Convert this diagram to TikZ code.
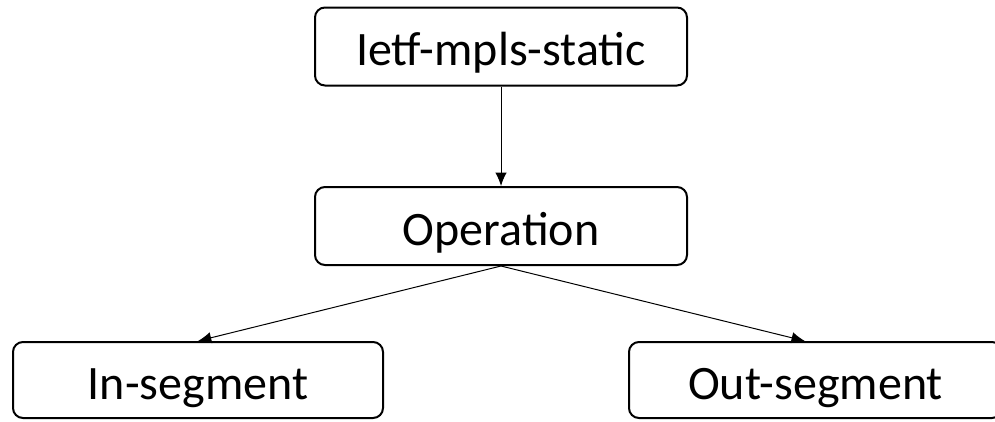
\documentclass[tikz,border=0pt]{standalone}
\usepackage{fontspec}
\setmainfont{Carlito}
\usetikzlibrary{arrows.meta}

\tikzset{
    modbox/.style={draw, line width=1.5pt, rounded corners=7.5pt,
        minimum width=372*0.75pt, minimum height=78*0.75pt,
        text height=34pt, text depth=5.5pt, inner sep=0pt,
        font=\fontsize{36}{40}\selectfont},
    link/.style={-{Latex[length=10pt,width=8.5pt]}, line width=0.75pt}
}

\begin{document}
\begin{tikzpicture}[x=0.75pt, y=-0.75pt]
    \useasboundingbox (0,0) rectangle (995,421);

    % Draw the boxes
    \node[modbox] (static) at (501,46.5) {Ietf-mpls-static};
    \node[modbox] (oper) at (501,226) {Operation};
    \node[modbox, minimum width=370*0.75pt, minimum height=76*0.75pt] (inseg) at (198,380) {In-segment};
    \node[modbox, minimum width=373*0.75pt, minimum height=76*0.75pt] (outseg) at (815.5,380) {Out-segment};
    \coordinate (outtip) at ([xshift=-8pt]outseg.north);

    % Connect them
    \draw[link] (static) -- (oper);
    \draw[link] (oper.south) -- (inseg.north);
    \draw[link] (oper.south) -- (outtip);
\end{tikzpicture}
\end{document}
